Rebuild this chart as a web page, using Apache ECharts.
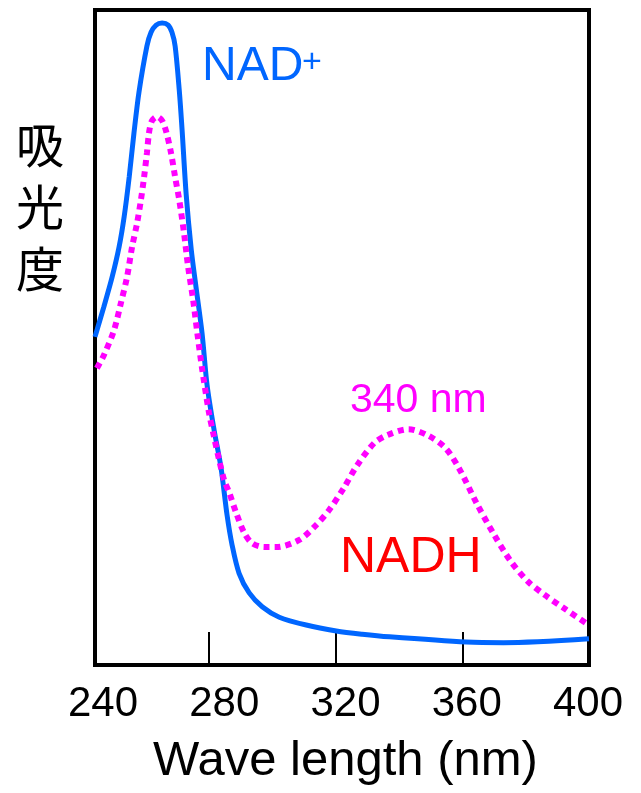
<!DOCTYPE html>
<html>
<head>
<meta charset="utf-8">
<title>NAD+ / NADH absorbance</title>
<script src="https://cdn.jsdelivr.net/npm/echarts@6/dist/echarts.min.js"></script>
<style>
  html, body { margin: 0; padding: 0; background: #fff; }
  #chart { width: 641px; height: 793px; }
</style>
</head>
<body>
<div id="chart"></div>
<script>
// wavelength (nm) / relative absorbance
var nadWave = [244, 246.8, 249.4, 251.6, 253.2, 254.8, 256.3, 257.9, 260.4, 261.7, 263.3, 265.2, 267.1, 268.3, 269.3, 270.6, 271.5, 272.8, 274.4, 275.9, 277.8, 279.4, 281.6, 283.8, 285.7, 287.3, 289.5, 292.7, 296.8, 302.2, 310.7, 320.2, 328.4, 337.0, 361.3, 373.0, 400];
var nadAbs  = [50.1, 54.7, 59.2, 63.8, 68.4, 74.5, 81.2, 87.5, 94.5, 96.6, 97.7, 98.0, 97.7, 96.6, 94.5, 87.8, 81.7, 71.8, 63.4, 57.7, 50.7, 42.7, 35.9, 30.1, 22.9, 18.3, 14.0, 11.0, 8.9, 7.3, 6.1, 5.2, 4.7, 4.3, 3.5, 3.4, 4.0];

var nadhWave = [244.6, 246.8, 250.0, 252.2, 254.1, 255.7, 257.3, 258.5, 259.5, 260.4, 261.1, 262.0, 263.6, 265.2, 266.5, 268.0, 269.3, 270.6, 272.1, 273.4, 275.0, 276.3, 277.8, 280.0, 281.6, 283.2, 284.8, 286.4, 288.6, 291.1, 293.6, 297.4, 301.2, 308.5, 313.9, 318.0, 322.4, 326.8, 332.2, 336.3, 343.0, 349.3, 354.7, 359.1, 364.5, 369.9, 375.2, 380.6, 386.0, 392.6, 400];
var nadhAbs  = [45.3, 47.3, 51.1, 55.3, 59.2, 63.8, 67.5, 71.0, 74.5, 78.2, 81.4, 83.1, 83.7, 83.1, 81.4, 78.2, 74.5, 71.0, 66.0, 60.8, 55.7, 50.7, 45.3, 38.5, 34.8, 31.3, 28.2, 26.3, 23.2, 20.2, 18.6, 18.0, 18.0, 19.1, 21.4, 23.7, 26.9, 30.5, 33.9, 35.1, 36.0, 35.0, 33.1, 29.9, 24.7, 20.0, 15.9, 12.8, 10.7, 8.5, 6.1];

var tickMarks = [280, 320, 360];
var tickLabels = [240, 280, 320, 360, 400];

var latin = 'Liberation Sans, Arial, Helvetica, sans-serif';

function pairs(xs, ys) {
    return xs.map(function (x, i) { return [x, ys[i]]; });
}

var chart = echarts.init(document.getElementById('chart'));

option = {
    animation: false,
    backgroundColor: '#fff',
    grid: [
        { left: 95, top: 10, width: 494, height: 655, show: true, borderColor: '#000', borderWidth: 4, backgroundColor: 'transparent' },
        { left: 103, top: 10, width: 485, height: 655 }
    ],
    xAxis: [
        {
            gridIndex: 0,
            type: 'value',
            min: 244,
            max: 400,
            axisLine: { show: false },
            splitLine: { show: false },
            axisLabel: { show: false },
            axisTick: {
                show: true,
                inside: true,
                length: 33,
                customValues: tickMarks,
                lineStyle: { color: '#000', width: 2 }
            }
        },
        {
            gridIndex: 1,
            type: 'value',
            min: tickLabels[0],
            max: tickLabels[tickLabels.length - 1],
            interval: 40,
            axisLine: { show: false },
            axisTick: { show: false },
            splitLine: { show: false },
            axisLabel: {
                show: true,
                margin: 18,
                fontSize: 42,
                color: '#000',
                fontFamily: latin,
                showMinLabel: true,
                showMaxLabel: true
            },
            name: 'Wave length (nm)',
            nameLocation: 'middle',
            nameGap: 72,
            nameTextStyle: { fontSize: 49, color: '#000', fontFamily: latin }
        }
    ],
    yAxis: [
        { gridIndex: 0, type: 'value', min: 0, max: 100, show: false },
        { gridIndex: 1, type: 'value', min: 0, max: 100, show: false }
    ],
    graphic: [
        { type: 'text', x: 40, y: 207, style: { text: '吸\n光\n度', fontSize: 48, lineHeight: 62, fontFamily: 'Noto Sans CJK JP', fill: '#000', align: 'center', verticalAlign: 'middle' } },
        { type: 'text', x: 202, y: 67, style: { text: 'NAD', fontSize: 48, fontFamily: latin, fill: '#0066ff', verticalAlign: 'middle' } },
        { type: 'text', x: 302, y: 63, style: { text: '+', fontSize: 34, fontFamily: latin, fill: '#0066ff', verticalAlign: 'middle' } },
        { type: 'text', x: 350, y: 401, style: { text: '340 nm', fontSize: 41, fontFamily: latin, fill: '#ff00ff', verticalAlign: 'middle' } },
        { type: 'text', x: 340, y: 558, style: { text: 'NADH', fontSize: 50, fontFamily: latin, fill: '#ff0000', verticalAlign: 'middle' } }
    ],
    series: [
        {
            name: 'NAD+',
            type: 'line',
            xAxisIndex: 0,
            yAxisIndex: 0,
            smooth: 0.3,
            showSymbol: false,
            lineStyle: { color: '#0066ff', width: 5 },
            data: pairs(nadWave, nadAbs)
        },
        {
            name: 'NADH',
            type: 'line',
            xAxisIndex: 0,
            yAxisIndex: 0,
            smooth: 0.3,
            showSymbol: false,
            lineStyle: { color: '#ff00ff', width: 6, type: [6, 5], cap: 'butt' },
            data: pairs(nadhWave, nadhAbs)
        }
    ]
};

chart.setOption(option);
</script>
</body>
</html>
